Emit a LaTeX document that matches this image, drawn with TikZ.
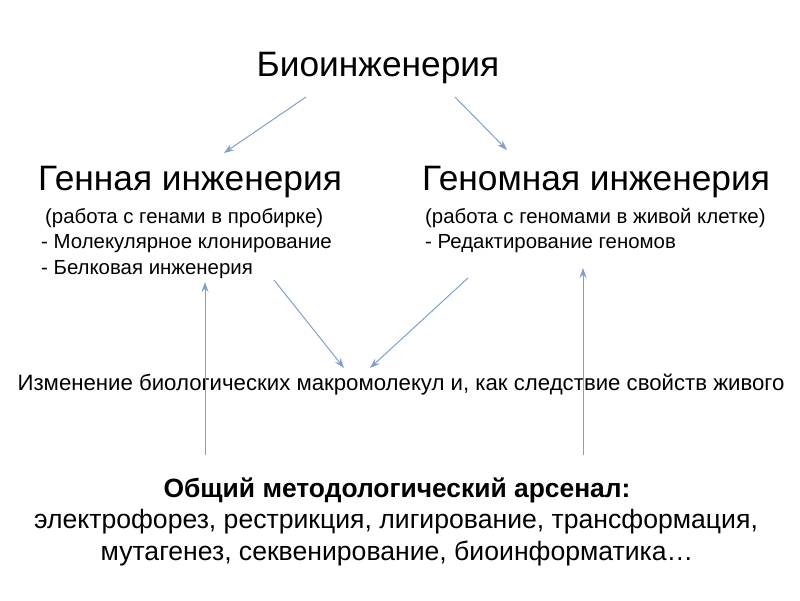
\documentclass[tikz,border=0pt]{standalone}
\usepackage{fontspec}
\setmainfont{Liberation Sans}
\usetikzlibrary{arrows.meta}
\definecolor{arr}{HTML}{7F9FCF}
\begin{document}
\begin{tikzpicture}[x=1pt,y=-1pt,
  big/.style={font=\fontsize{35.3}{40}\selectfont, inner sep=0},
  small/.style={font=\fontsize{20.4}{24}\selectfont, inner sep=0, anchor=west},
  mid/.style={font=\fontsize{22.2}{26}\selectfont, inner sep=0},
  bot/.style={font=\fontsize{26.6}{30}\selectfont, inner sep=0},
  con/.style={draw=arr, line width=1pt, -{Stealth[length=10pt,width=7pt]}}]
\useasboundingbox (0,0) rectangle (800,600);
\node[big] (bio) at (378,68) {Биоинженерия};
\node[big] (gen) at (190,182) {Генная инженерия};
\node[big] (genom) at (596,182) {Геномная инженерия};
\node[small] (l1) at (45,218) {(работа с генами в пробирке)};
\node[small] (l2) at (41,244) {- Молекулярное клонирование};
\node[small] (l3) at (41,270) {- Белковая инженерия};
\node[small] (r1) at (425,218) {(работа с геномами в живой клетке)};
\node[small] (r2) at (425,244) {- Редактирование геномов};
\node[mid] (ch) at (401,385) {Изменение биологических макромолекул и, как следствие свойств живого};
\node[bot,font=\fontsize{26.4}{30}\selectfont\bfseries] (b1) at (397,490) {Общий методологический арсенал:};
\node[bot] (b2) at (396,522) {электрофорез, рестрикция, лигирование, трансформация,};
\node[bot] (b3) at (397,553) {мутагенез, секвенирование, биоинформатика…};
\coordinate (a1s) at (306,97); \coordinate (a1e) at (224,153);
\coordinate (a2s) at (455,97); \coordinate (a2e) at (507,150);
\coordinate (a3s) at (274,280); \coordinate (a3e) at (344,368);
\coordinate (a4s) at (468,278); \coordinate (a4e) at (370,368);
\coordinate (a5s) at (205,455); \coordinate (a5e) at (205,282);
\coordinate (a6s) at (583,455); \coordinate (a6e) at (583,268);
\draw[con] (a1s) -- (a1e);
\draw[con] (a2s) -- (a2e);
\draw[con] (a3s) -- (a3e);
\draw[con] (a4s) -- (a4e);
\draw[con] (a5s) -- (a5e);
\draw[con] (a6s) -- (a6e);
\end{tikzpicture}
\end{document}
